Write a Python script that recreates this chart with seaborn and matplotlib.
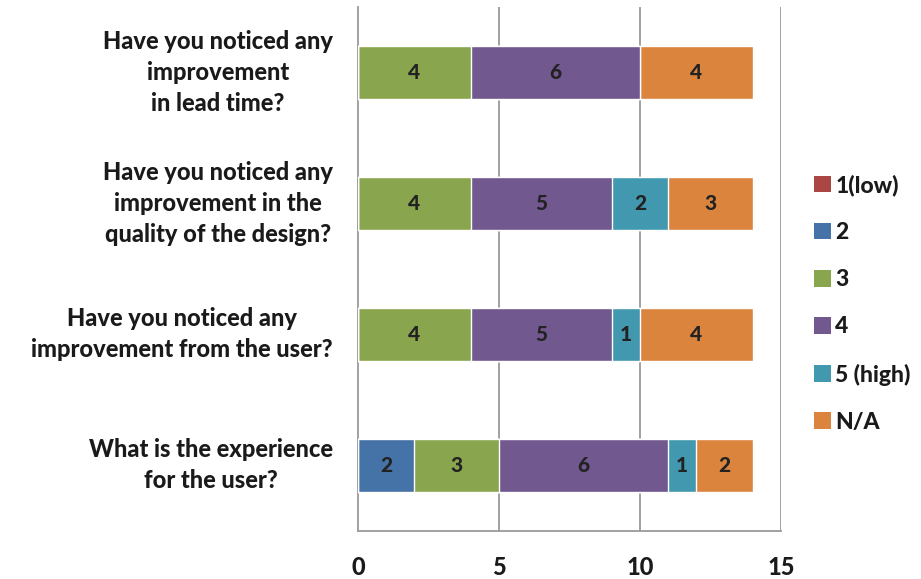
import numpy as np
import pandas as pd
import seaborn as sns
import matplotlib.pyplot as plt
from matplotlib.patches import Patch

questions = [
    "Have you noticed any\nimprovement\nin lead time?",
    "Have you noticed any\nimprovement in the\nquality of the design?",
    "Have you noticed any\nimprovement from the user?",
    "What is the experience\nfor the user?",
]
series_names = ["1(low)", "2", "3", "4", "5 (high)", "N/A"]
low_1 = [0, 0, 0, 0]
score_2 = [0, 0, 0, 2]
score_3 = [4, 4, 4, 3]
score_4 = [6, 5, 5, 6]
high_5 = [0, 2, 1, 1]
not_applicable = [4, 3, 4, 2]
colors = ["#AA4643", "#4572A7", "#89A54E", "#71588F", "#4198AF", "#DB843D"]
x_ticks = [0, 5, 10, 15]

sns.set_theme(style="white")
plt.rcParams["font.family"] = ["Lato", "DejaVu Sans"]
WEIGHT = "black"
plt.rcParams["font.weight"] = WEIGHT

values = np.array([low_1, score_2, score_3, score_4, high_5, not_applicable], dtype=float)
cum = np.cumsum(values, axis=0)

fig = plt.figure(figsize=(9.21, 5.79), dpi=100)
ax = fig.add_axes([0.3887, 0.083, 0.848 - 0.3887, 0.988 - 0.083])

# stacked bars: draw cumulative totals from the outermost segment inward
for i in range(len(series_names) - 1, -1, -1):
    df = pd.DataFrame({"question": questions, "total": cum[i]})
    sns.barplot(data=df, x="total", y="question", color=colors[i],
                saturation=1, width=0.4, ax=ax, orient="h", zorder=3)

# segment value labels
for i in range(len(series_names)):
    for j in range(len(questions)):
        v = values[i, j]
        if v > 0:
            ax.text(cum[i, j] - v / 2, j, f"{int(v)}", ha="center", va="center",
                    fontsize=15, fontweight=WEIGHT, color="#222222", zorder=4)

ax.set_xlim(0, 15)
ax.set_ylim(3.5, -0.5)
ax.set_xticks(x_ticks)
ax.set_xticklabels([str(t) for t in x_ticks], fontsize=17, fontweight=WEIGHT, color="#1a1a1a")
ax.set_yticks(range(len(questions)))
ax.set_yticklabels(questions, fontsize=17, fontweight=WEIGHT, color="#1a1a1a",
                   multialignment="center", linespacing=1.42, va="center")
ax.set_yticks([-0.5, 0.5, 1.5, 2.5, 3.5], minor=True)
ax.tick_params(axis="y", which="major", length=0, pad=18)
ax.tick_params(axis="y", which="minor", length=7, width=1.3, color="#9a9a9a", direction="out")
ax.tick_params(axis="x", which="major", length=8, width=1.3, color="#9a9a9a",
               direction="out", pad=10)
ax.set_xlabel("")
ax.set_ylabel("")

for x in x_ticks[1:]:
    ax.axvline(x, color="#9a9a9a", linewidth=1.3, zorder=1)
for side in ["top", "right"]:
    ax.spines[side].set_visible(False)
for side in ["left", "bottom"]:
    ax.spines[side].set_color("#9a9a9a")
    ax.spines[side].set_linewidth(1.3)

handles = [Patch(facecolor=c, edgecolor="none") for c in colors]
leg = fig.legend(handles, series_names, loc="center left", bbox_to_anchor=(0.861, 0.476),
                 frameon=False, handlelength=0.75, handleheight=0.75, handletextpad=0.2,
                 labelspacing=1.14, prop={"size": 16.5, "weight": WEIGHT})
for t in leg.get_texts():
    t.set_color("#1a1a1a")

fig.savefig("out.png", dpi=100)
